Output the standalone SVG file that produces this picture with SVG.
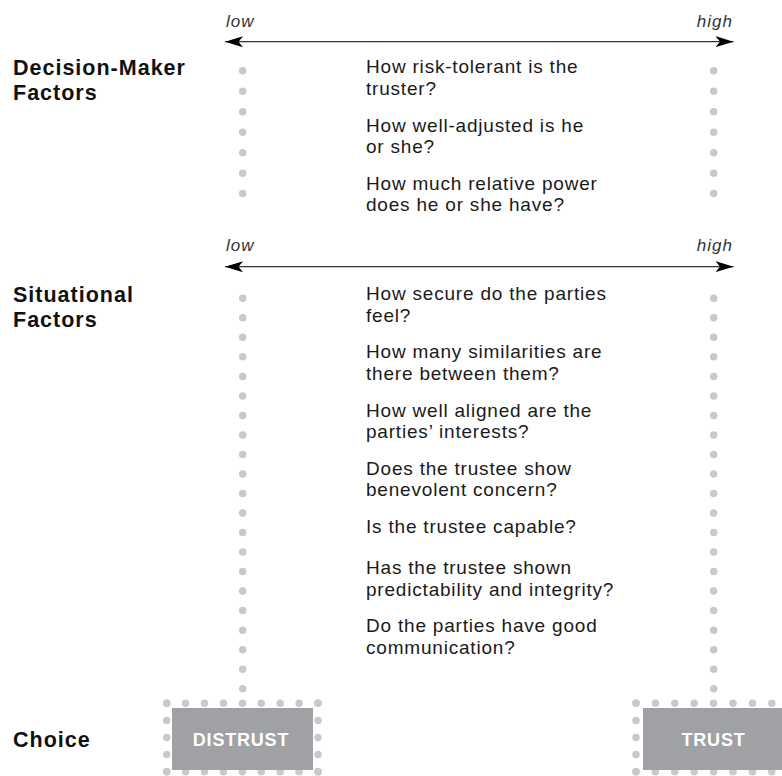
<svg xmlns="http://www.w3.org/2000/svg" width="782" height="776" viewBox="0 0 782 776">
<defs>
<style>
.hd{font-family:"Liberation Sans",Arial,sans-serif;font-weight:bold;font-size:21.5px;letter-spacing:1px;fill:#111}
.q{font-family:"Liberation Sans",Arial,sans-serif;font-size:19px;letter-spacing:0.8px;fill:#1a1a1a}
.ax{font-family:"Liberation Sans",Arial,sans-serif;font-style:italic;font-size:17px;letter-spacing:1px;fill:#333}
.bx{fill:#a0a1a4}
.bt{font-family:"Liberation Sans",Arial,sans-serif;font-weight:bold;font-size:18px;letter-spacing:0.8px;fill:#fff;text-anchor:middle}
.arrow{stroke:#333;stroke-width:1.3;fill:none}
.dots{stroke:#c8c9cb;stroke-width:7.5;stroke-linecap:round;fill:none}
</style>
<marker id="ah" viewBox="0 0 18 12" refX="18" refY="6" markerWidth="18" markerHeight="12" markerUnits="userSpaceOnUse" orient="auto-start-reverse">
<path d="M0,0.5 L18,6 L0,11.5 L4.5,6 Z" fill="#000"/>
</marker>
</defs>
<rect width="782" height="776" fill="#fff"/>

<g id="connectors">
<line class="arrow" x1="225" y1="41.7" x2="733.5" y2="41.7" marker-start="url(#ah)" marker-end="url(#ah)"/>
<line class="arrow" x1="225" y1="266.7" x2="733.5" y2="266.7" marker-start="url(#ah)" marker-end="url(#ah)"/>
<g class="dots">
<line x1="242.7" y1="70.7" x2="242.7" y2="214.1" stroke-dasharray="0 20.486"/>
<line x1="713.7" y1="70.7" x2="713.7" y2="214.1" stroke-dasharray="0 20.486"/>
<line x1="242.7" y1="298.3" x2="242.7" y2="688.7" stroke-dasharray="0 19.52"/>
<line x1="713.7" y1="298.3" x2="713.7" y2="688.7" stroke-dasharray="0 19.52"/>
</g>
</g>

<g id="axis-top">
<text class="ax" x="226" y="27">low</text>
<text class="ax" x="733" y="27" text-anchor="end">high</text>
</g>
<g id="axis-mid">
<text class="ax" x="226" y="251">low</text>
<text class="ax" x="733" y="251" text-anchor="end">high</text>
</g>

<g id="decision-maker-factors">
<text class="hd" x="13" y="75">Decision-Maker</text>
<text class="hd" x="13" y="100">Factors</text>
<text class="q" x="366" y="73.3">How risk-tolerant is the</text>
<text class="q" x="366" y="94.8">truster?</text>
<text class="q" x="366" y="131.6">How well-adjusted is he</text>
<text class="q" x="366" y="153.1">or she?</text>
<text class="q" x="366" y="189.9">How much relative power</text>
<text class="q" x="366" y="211.4">does he or she have?</text>
</g>

<g id="situational-factors">
<text class="hd" x="13" y="302">Situational</text>
<text class="hd" x="13" y="327">Factors</text>
<text class="q" x="366" y="300">How secure do the parties</text>
<text class="q" x="366" y="321.5">feel?</text>
<text class="q" x="366" y="358.3">How many similarities are</text>
<text class="q" x="366" y="379.8">there between them?</text>
<text class="q" x="366" y="416.6">How well aligned are the</text>
<text class="q" x="366" y="438.1">parties’ interests?</text>
<text class="q" x="366" y="474.9">Does the trustee show</text>
<text class="q" x="366" y="496.4">benevolent concern?</text>
<text class="q" x="366" y="532.5">Is the trustee capable?</text>
<text class="q" x="366" y="574">Has the trustee shown</text>
<text class="q" x="366" y="595.5">predictability and integrity?</text>
<text class="q" x="366" y="632.3">Do the parties have good</text>
<text class="q" x="366" y="653.8">communication?</text>
</g>

<g id="choice">
<text class="hd" x="13" y="747">Choice</text>
</g>

<g id="distrust">
<g class="dots">
<line x1="166.7" y1="703.3" x2="318" y2="703.3" stroke-dasharray="0 18.91"/>
<line x1="166.7" y1="771.7" x2="318" y2="771.7" stroke-dasharray="0 18.91"/>
<line x1="166.7" y1="703.3" x2="166.7" y2="771.7" stroke-dasharray="0 17.1"/>
<line x1="318" y1="703.3" x2="318" y2="771.7" stroke-dasharray="0 17.1"/>
</g>
<rect class="bx" x="172" y="708" width="141" height="62"/>
<text class="bt" x="241" y="745.5">DISTRUST</text>
</g>

<g id="trust">
<g class="dots">
<line x1="636" y1="703.3" x2="791.2" y2="703.3" stroke-dasharray="0 19.4"/>
<line x1="636" y1="771.7" x2="791.2" y2="771.7" stroke-dasharray="0 19.4"/>
<line x1="636" y1="703.3" x2="636" y2="771.7" stroke-dasharray="0 17.1"/>
</g>
<rect class="bx" x="643" y="708" width="141" height="62"/>
<text class="bt" x="713.5" y="745.5">TRUST</text>
</g>
</svg>
